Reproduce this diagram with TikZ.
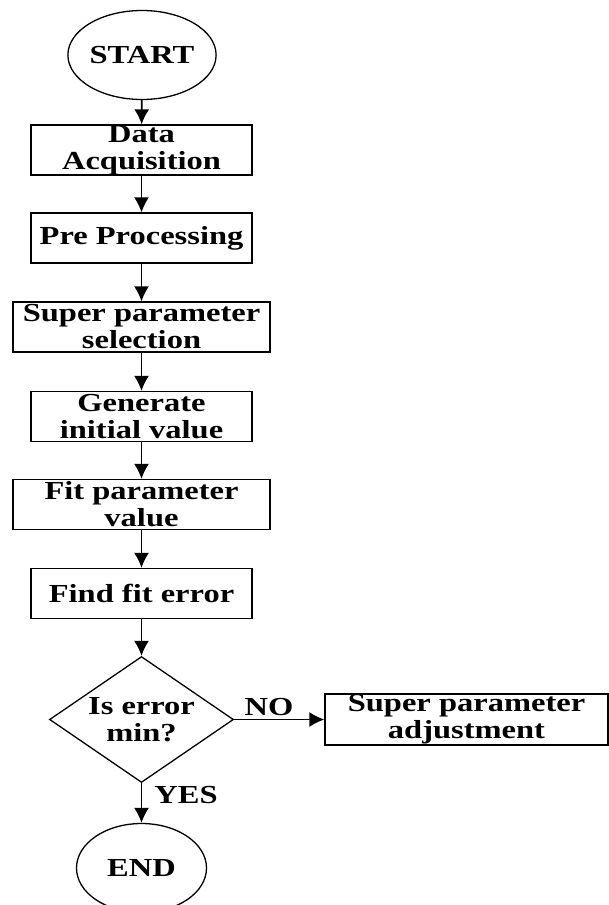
\documentclass[tikz,border=0pt]{standalone}
\usepackage{fontspec}
\setmainfont[FakeStretch=1.25]{Liberation Serif}
\usetikzlibrary{shapes.geometric,arrows.meta}
\begin{document}
\begin{tikzpicture}[x=1pt,y=-1pt,
  txt/.style={font=\fontsize{26}{27}\selectfont\bfseries},
  box/.style={draw, line width=1.3pt, minimum height=50pt, inner sep=0pt, align=center, txt},
  term/.style={draw, ellipse, line width=1.3pt, minimum width=130pt, minimum height=89pt, inner sep=0pt, txt},
  decision/.style={draw, diamond, aspect=1.46, line width=1.3pt, minimum width=184pt, minimum height=126pt, inner sep=0pt, align=center, txt},
  arr/.style={line width=1.6pt, -{Latex[length=15pt,width=15pt]}},
  lab/.style={inner sep=0pt, txt}]
\useasboundingbox (0,0) rectangle (609,905);
\node[term] (start) at (142,55) {START};
\node[box, minimum width=221pt] (da) at (141.5,150) {Data\\Acquisition};
\node[box, minimum width=221pt] (pp) at (141.5,238) {Pre Processing};
\node[box, minimum width=257pt] (sps) at (141.5,327) {Super parameter\\selection};
\node[box, minimum width=221pt] (gen) at (141.5,416.5) {Generate\\initial value};
\node[box, minimum width=257pt] (fit) at (141.5,504.5) {Fit parameter\\value};
\node[box, minimum width=221pt] (ffe) at (141.5,593.5) {Find fit error};
\node[decision] (dec) at (141.5,719.5) {Is error\\min?};
\node[box, minimum width=283pt, minimum height=51pt] (adj) at (466.5,719.5) {Super parameter\\adjustment};
\node[term] (end) at (141.5,868) {END};
\node[lab] (no) at (269,707) {NO};
\node[lab] (yes) at (186,795) {YES};
\draw[arr] (start) -- (da);
\draw[arr] (da) -- (pp);
\draw[arr] (pp) -- (sps);
\draw[arr] (sps) -- (gen);
\draw[arr] (gen) -- (fit);
\draw[arr] (fit) -- (ffe);
\draw[arr] (ffe) -- (dec);
\draw[arr] (dec.east) -- (adj.west);
\draw[arr] (dec.south) -- (end.north);
\end{tikzpicture}
\end{document}
